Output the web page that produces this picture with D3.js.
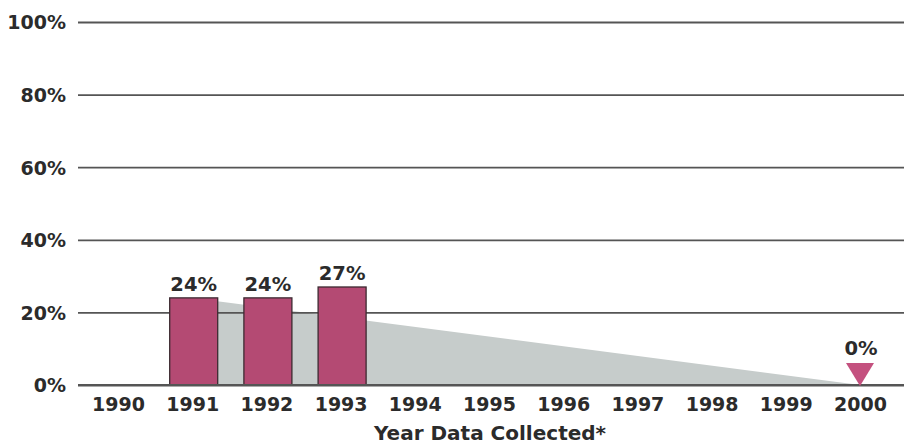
<!DOCTYPE html>
<html>
<head>
<meta charset="utf-8">
<script src="https://cdn.jsdelivr.net/npm/d3@7"></script>
<style>
  html, body { margin: 0; padding: 0; background: #fff; }
  svg { display: block; }
  text { font-family: "DejaVu Sans", "Liberation Sans", Arial, sans-serif; font-weight: bold; fill: #2b2b2b; }
</style>
</head>
<body>
<svg id="chart" width="904" height="447"></svg>
<script>
// Survey years shown on the axis
const years = [1990, 1991, 1992, 1993, 1994, 1995, 1996, 1997, 1998, 1999, 2000];
// Observed percentages (bars)
const barYears = [1991, 1992, 1993];
const barValues = [24, 24, 27];
// Target trend from the 1991 level down to the year-2000 goal
const trendYears = [1991, 2000];
const trendValues = [24, 0];
// Year-2000 target marker
const targetYear = 2000;
const targetValue = 0;
// Y-axis ticks
const yTicks = [0, 20, 40, 60, 80, 100];
const xTitle = "Year Data Collected*";

const FONT = "'DejaVu Sans', 'Liberation Sans', Arial, sans-serif";
const svg = d3.select("#chart");
const plotLeft = 78, plotRight = 904, plotTop = 22, plotBottom = 385;

const x = d3.scalePoint().domain(years).range([118, 860]);
const y = d3.scaleLinear().domain([0, 100]).range([plotBottom, plotTop]);

// Grey trend area
const trend = trendYears.map((yr, i) => ({ yr, v: trendValues[i] }));
svg.append("path")
  .datum(trend)
  .attr("fill", "#c6cccb")
  .attr("d", d3.area().x(d => x(d.yr)).y0(y(0)).y1(d => y(d.v)));

// Gridlines with percentage labels
const yAxis = d3.axisLeft(y).tickValues(yTicks).tickSize(-(plotRight - plotLeft)).tickFormat(d => d + "%");
const gy = svg.append("g").attr("transform", `translate(${plotLeft},0)`).call(yAxis);
gy.select(".domain").remove();
gy.selectAll(".tick line").attr("stroke", "#555").attr("stroke-width", 1.8);
gy.selectAll(".tick text")
  .attr("x", -12)
  .attr("dy", "0.36em")
  .style("font-size", "19px")
  .style("font-family", FONT)
  .style("font-weight", "bold")
  .attr("fill", "#2b2b2b");

// Bars
const barW = 48;
const bars = barYears.map((yr, i) => ({ yr, v: barValues[i] }));
svg.append("g").selectAll("rect").data(bars).join("rect")
  .attr("x", d => x(d.yr) - barW / 2 + 1.5)
  .attr("y", d => y(d.v))
  .attr("width", barW)
  .attr("height", d => y(0) - y(d.v))
  .attr("fill", "#b44a73")
  .attr("stroke", "#3c2a31")
  .attr("stroke-width", 1.3);

svg.append("g").selectAll("text").data(bars).join("text")
  .attr("x", d => x(d.yr) + 1.5)
  .attr("y", d => y(d.v) - 7)
  .attr("text-anchor", "middle")
  .style("font-size", "19.5px")
  .text(d => d.v + "%");

// Baseline on top of fills
svg.append("line")
  .attr("x1", plotLeft).attr("x2", plotRight)
  .attr("y1", y(0)).attr("y2", y(0))
  .attr("stroke", "#555").attr("stroke-width", 1.8);

// Target marker: downward triangle
const tx = x(targetYear), ty = y(targetValue);
svg.append("path")
  .attr("d", d3.line()([[tx - 14, ty - 22], [tx + 14, ty - 22], [tx, ty + 1]]) + "Z")
  .attr("fill", "#c4517f");
svg.append("text")
  .attr("x", tx + 1)
  .attr("y", ty - 30)
  .attr("text-anchor", "middle")
  .style("font-size", "19.5px")
  .text(targetValue + "%");

// Year labels
const xAxis = d3.axisBottom(x).tickSize(0).tickPadding(0);
const gx = svg.append("g").attr("transform", `translate(0,${plotBottom})`).call(xAxis);
gx.select(".domain").remove();
gx.selectAll(".tick text")
  .attr("y", 13)
  .attr("dy", "0.71em")
  .style("font-size", "19px")
  .style("font-family", FONT)
  .style("font-weight", "bold")
  .attr("fill", "#2b2b2b");

svg.append("text")
  .attr("x", 490)
  .attr("y", 440)
  .attr("text-anchor", "middle")
  .style("font-size", "20px")
  .text(xTitle);
</script>
</body>
</html>
